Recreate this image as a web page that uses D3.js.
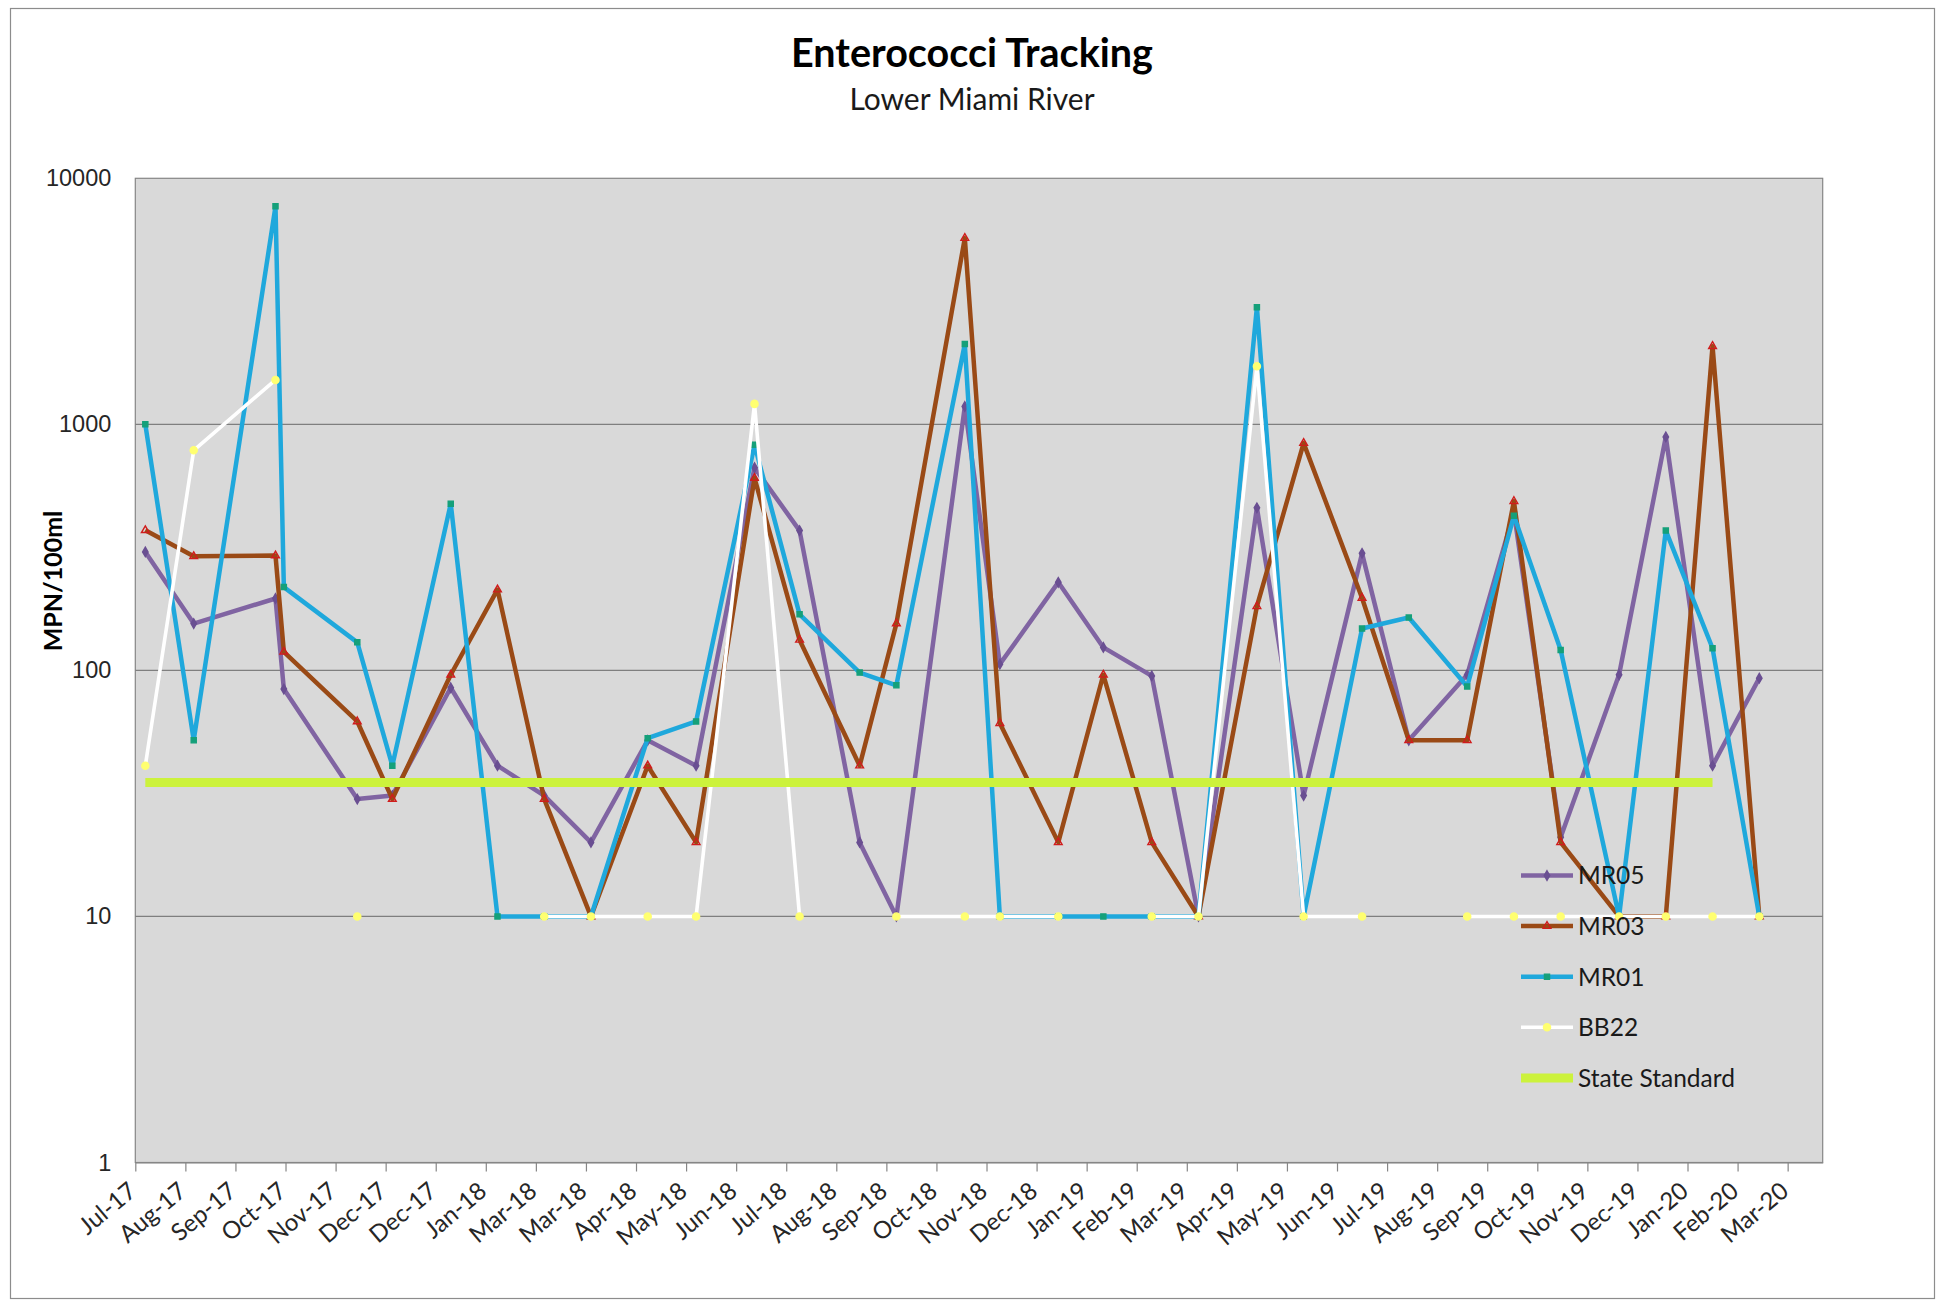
<!DOCTYPE html>
<html>
<head>
<meta charset="utf-8">
<script src="https://cdn.jsdelivr.net/npm/d3@7"></script>
<style>
  body { margin: 0; background: #fff; }
  svg { display: block; }
</style>
</head>
<body>
<div id="chart"></div>
<script>
// sample dates shared by all stations
const sampleDates = [
  "2017-07-10","2017-08-08","2017-09-26","2017-10-01","2017-11-14","2017-12-05",
  "2018-01-09","2018-02-06","2018-03-06","2018-04-03","2018-05-07","2018-06-05",
  "2018-07-10","2018-08-06","2018-09-11","2018-10-03","2018-11-13","2018-12-04",
  "2019-01-08","2019-02-04","2019-03-05","2019-04-02","2019-05-07","2019-06-04",
  "2019-07-09","2019-08-06","2019-09-10","2019-10-08","2019-11-05","2019-12-10",
  "2020-01-07","2020-02-04","2020-03-03"
];
const mr05 = [303,155,196,84,30,31,85,41,31,20,52,41,667,370,20,10,1182,106,228,124,95,10,458,31,299,52,96,440,21,96,889,41,93];
const mr03 = [371,291,293,119,62,30,96,213,30,10,41,20,605,133,41,155,5714,61,20,96,20,10,182,839,197,52,52,487,20,10,10,2078,10];
const mr01 = [1000,52,7700,218,130,41,476,10,10,10,53,62,826,169,98,87,2120,10,10,10,10,10,2993,10,148,164,86,425,121,10,370,123,10];
const bb22 = [41,784,1515,null,10,null,null,null,10,10,10,10,1211,10,null,10,10,10,10,null,10,10,1721,10,10,null,10,10,10,10,10,10,10];
const stateStandard = [35,35,35,35,35,35,35,35,35,35,35,35,35,35,35,35,35,35,35,35,35,35,35,35,35,35,35,35,35,35,35,35,null];

const seriesNames = ["MR05", "MR03", "MR01", "BB22", "State Standard"];
const yTickValues = [1, 10, 100, 1000, 10000];
const axisStart = "2017-07-04";
const axisEnd = "2020-04-10";
const tickStepDays = 30;
const tickCount = 34;

const parseDate = d3.utcParse("%Y-%m-%d");
const fmtMonth = d3.utcFormat("%b-%y");

const W = 1939, H = 1303;
const plot = {left: 135.3, right: 1822.7, top: 178.3, bottom: 1162.5};

const svg = d3.select("#chart").append("svg")
  .attr("width", W).attr("height", H)
  .style("font-family", "Lato, 'Open Sans', sans-serif");

// outer chart frame
svg.append("rect")
  .attr("x", 10.5).attr("y", 8.5).attr("width", 1924).attr("height", 1290)
  .attr("fill", "#fff").attr("stroke", "#8c8c8c").attr("stroke-width", 1.2);

const x = d3.scaleUtc()
  .domain([parseDate(axisStart), parseDate(axisEnd)])
  .range([plot.left, plot.right]);
const y = d3.scaleLog()
  .domain([1, 10000])
  .range([plot.bottom, plot.top]);

// plot background
svg.append("rect")
  .attr("x", plot.left).attr("y", plot.top)
  .attr("width", plot.right - plot.left).attr("height", plot.bottom - plot.top)
  .attr("fill", "#d9d9d9").attr("stroke", "#868686").attr("stroke-width", 1.2);

// gridlines
svg.append("g").selectAll("line")
  .data(yTickValues.slice(1, -1))
  .join("line")
  .attr("x1", plot.left).attr("x2", plot.right)
  .attr("y1", d => y(d)).attr("y2", d => y(d))
  .attr("stroke", "#7f7f7f").attr("stroke-width", 1.2);

// y axis labels
const yAxis = d3.axisLeft(y).tickValues(yTickValues).tickFormat(d3.format("d")).tickSize(0).tickPadding(24);
svg.append("g")
  .attr("transform", `translate(${plot.left},0)`)
  .call(yAxis)
  .call(g => g.select(".domain").remove())
  .call(g => g.selectAll("text")
    .attr("font-family", "'Liberation Sans', Arial, sans-serif")
    .attr("font-size", 23.5).attr("fill", "#262626"));

// x axis: 30-day ticks starting at axis start
const xTicks = d3.range(tickCount).map(i => d3.utcDay.offset(parseDate(axisStart), i * tickStepDays));
const xAxis = d3.axisBottom(x).tickValues(xTicks).tickFormat(fmtMonth).tickSize(9).tickSizeOuter(0);
svg.append("g")
  .attr("transform", `translate(0,${plot.bottom})`)
  .call(xAxis)
  .call(g => g.select(".domain").attr("stroke", "#868686").attr("stroke-width", 1.2))
  .call(g => g.selectAll(".tick line").attr("stroke", "#868686").attr("stroke-width", 1.2))
  .call(g => g.selectAll("text")
    .attr("font-family", "Lato, sans-serif")
    .attr("font-size", 24).attr("fill", "#262626")
    .attr("text-anchor", "end")
    .attr("dy", 0).attr("y", 0).attr("x", 0)
    .attr("transform", "translate(2,31) rotate(-40)"));

// series
const dates = sampleDates.map(parseDate);
const series = [
  {name: seriesNames[0], values: mr05, color: "#8064a2", width: 4.5, symbol: d3.symbolDiamond, mFill: "#6a4f92", mStroke: "#6a4f92"},
  {name: seriesNames[1], values: mr03, color: "#9a4a16", width: 4.5, symbol: d3.symbolTriangle, mFill: "none", mStroke: "#d01c1c"},
  {name: seriesNames[2], values: mr01, color: "#1fa8dc", width: 4.5, symbol: d3.symbolSquare, mFill: "#15a07a", mStroke: "#15a07a"},
  {name: seriesNames[3], values: bb22, color: "#ffffff", width: 3.6, symbol: d3.symbolCircle, mFill: "#ffff70", mStroke: "#ffff70"},
  {name: seriesNames[4], values: stateStandard, color: "#ccf23c", width: 9, symbol: null}
];

const line = d3.line()
  .defined(d => d.v != null)
  .x(d => x(d.t))
  .y(d => y(d.v));

series.forEach(s => {
  const pts = dates.map((t, i) => ({t: t, v: s.values[i]}));
  svg.append("path")
    .datum(pts)
    .attr("fill", "none")
    .attr("stroke", s.color)
    .attr("stroke-width", s.width)
    .attr("stroke-linejoin", "round")
    .attr("d", line);
  if (s.symbol) {
    svg.append("g").selectAll("path")
      .data(pts.filter(d => d.v != null))
      .join("path")
      .attr("transform", d => `translate(${x(d.t)},${y(d.v)})`)
      .attr("d", d3.symbol().type(s.symbol).size(s.symbol === d3.symbolCircle ? 40 : 26))
      .attr("fill", s.mFill)
      .attr("stroke", s.mStroke)
      .attr("stroke-width", 1.4);
  }
});

// legend
const legend = svg.append("g").attr("transform", "translate(1521,875.5)");
series.forEach((s, i) => {
  const row = legend.append("g").attr("transform", `translate(0,${i * 50.6})`);
  row.append("line")
    .attr("x1", 0).attr("x2", 52).attr("y1", 0).attr("y2", 0)
    .attr("stroke", s.color).attr("stroke-width", s.width);
  if (s.symbol) {
    row.append("path")
      .attr("transform", "translate(26,0)")
      .attr("d", d3.symbol().type(s.symbol).size(s.symbol === d3.symbolCircle ? 40 : 26))
      .attr("fill", s.mFill).attr("stroke", s.mStroke).attr("stroke-width", 1.4);
  }
  row.append("text")
    .attr("x", 57).attr("y", 0).attr("dy", "0.36em")
    .attr("font-size", 24.5).attr("fill", "#1a1a1a")
    .text(s.name);
});

// titles
svg.append("text")
  .attr("x", 972).attr("y", 67)
  .attr("text-anchor", "middle")
  .attr("font-weight", "bold").attr("font-size", 39.5).attr("fill", "#000")
  .text("Enterococci Tracking");
svg.append("text")
  .attr("x", 972).attr("y", 110)
  .attr("text-anchor", "middle")
  .attr("font-size", 30).attr("fill", "#1a1a1a")
  .text("Lower Miami River");
svg.append("text")
  .attr("transform", "translate(62,581) rotate(-90)")
  .attr("text-anchor", "middle")
  .attr("font-weight", "bold").attr("font-size", 25).attr("fill", "#000")
  .text("MPN/100ml");
</script>
</body>
</html>
